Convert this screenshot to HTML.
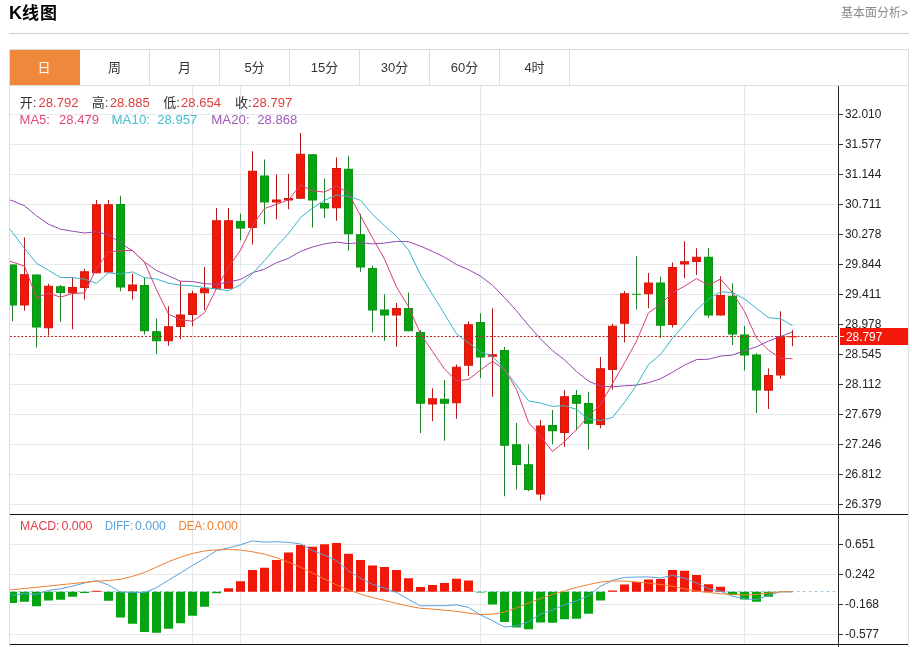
<!DOCTYPE html>
<html lang="zh-CN"><head><meta charset="utf-8"><title>K线图</title>
<style>
html,body{margin:0;padding:0;background:#fff;}
body{width:912px;height:647px;overflow:hidden;position:relative;font-family:"Liberation Sans","Noto Sans CJK SC",sans-serif;}
.title{position:absolute;left:9px;top:1px;font-size:18px;line-height:24px;font-weight:bold;color:#000;}
.more{position:absolute;right:4px;top:5px;font-size:12px;line-height:16px;color:#8a8a8a;white-space:nowrap;}
.hr{position:absolute;left:9px;top:33px;width:900px;height:1px;background:#cfcfcf;}
.box{position:absolute;left:9px;top:49px;width:898px;height:598px;border:1px solid #ddd;border-bottom:none;box-sizing:content-box;}
.tabs{position:absolute;left:10px;top:50px;width:898px;height:35px;border-bottom:1px solid #ddd;}
.tab{position:absolute;top:0;width:69px;height:35px;border-right:1px solid #ddd;text-align:center;font-size:13px;line-height:36px;color:#333;}
.tab.on{background:#f0883c;color:#fff;width:70px;border-right:none;text-indent:-2px;}
.title span{font-size:17px;letter-spacing:1px;}
svg{position:absolute;left:0;top:0;}
svg text{font-family:"Liberation Sans","Noto Sans CJK SC",sans-serif;}
</style></head><body>
<div class="title">K<span>线图</span></div>
<div class="more">基本面分析&gt;</div>
<div class="hr"></div>
<div class="box"></div>
<div class="tabs">
<div class="tab on" style="left:0px">日</div>
<div class="tab" style="left:70px">周</div>
<div class="tab" style="left:140px">月</div>
<div class="tab" style="left:210px">5分</div>
<div class="tab" style="left:280px">15分</div>
<div class="tab" style="left:350px">30分</div>
<div class="tab" style="left:420px">60分</div>
<div class="tab" style="left:490px">4时</div>
</div>
<svg width="912" height="647" viewBox="0 0 912 647">
<g shape-rendering="crispEdges"><rect x="10" y="114" width="827" height="1" fill="#e8e9eb"/><rect x="10" y="144" width="827" height="1" fill="#e8e9eb"/><rect x="10" y="174" width="827" height="1" fill="#e8e9eb"/><rect x="10" y="204" width="827" height="1" fill="#e8e9eb"/><rect x="10" y="234" width="827" height="1" fill="#e8e9eb"/><rect x="10" y="264" width="827" height="1" fill="#e8e9eb"/><rect x="10" y="294" width="827" height="1" fill="#e8e9eb"/><rect x="10" y="324" width="827" height="1" fill="#e8e9eb"/><rect x="10" y="354" width="827" height="1" fill="#e8e9eb"/><rect x="10" y="384" width="827" height="1" fill="#e8e9eb"/><rect x="10" y="414" width="827" height="1" fill="#e8e9eb"/><rect x="10" y="444" width="827" height="1" fill="#e8e9eb"/><rect x="10" y="474" width="827" height="1" fill="#e8e9eb"/><rect x="10" y="504" width="827" height="1" fill="#e8e9eb"/><rect x="10" y="544" width="827" height="1" fill="#e8e9eb"/><rect x="10" y="574" width="827" height="1" fill="#e8e9eb"/><rect x="10" y="604" width="827" height="1" fill="#e8e9eb"/><rect x="10" y="634" width="827" height="1" fill="#e8e9eb"/><rect x="192" y="86" width="1" height="558" fill="#e3e6ec"/><rect x="240" y="86" width="1" height="558" fill="#e3e6ec"/><rect x="480" y="86" width="1" height="558" fill="#e3e6ec"/><rect x="744" y="86" width="1" height="558" fill="#e3e6ec"/></g>
<line x1="10" y1="591.5" x2="838" y2="591.5" stroke="#9cc6de" stroke-width="1" stroke-dasharray="2.6,3.3" stroke-dashoffset="-2.4"/>
<g fill="#b01a18"><rect x="24" y="237.50" width="1" height="73.25"/><rect x="48" y="283.75" width="1" height="51.75"/><rect x="72" y="277.50" width="1" height="51.75"/><rect x="84" y="268.75" width="1" height="30.75"/><rect x="96" y="200.00" width="1" height="73.25"/><rect x="108" y="200.00" width="1" height="72.50"/><rect x="132" y="273.75" width="1" height="25.75"/><rect x="168" y="306.25" width="1" height="39.50"/><rect x="180" y="281.25" width="1" height="58.00"/><rect x="192" y="290.75" width="1" height="35.50"/><rect x="204" y="267.00" width="1" height="43.00"/><rect x="216" y="208.00" width="1" height="80.75"/><rect x="228" y="208.00" width="1" height="80.75"/><rect x="252" y="151.25" width="1" height="93.25"/><rect x="276" y="174.50" width="1" height="44.75"/><rect x="288" y="173.75" width="1" height="35.50"/><rect x="300" y="133.00" width="1" height="65.75"/><rect x="336" y="157.50" width="1" height="63.25"/><rect x="396" y="303.00" width="1" height="43.75"/><rect x="432" y="388.25" width="1" height="33.00"/><rect x="456" y="364.50" width="1" height="54.25"/><rect x="468" y="321.25" width="1" height="54.50"/><rect x="492" y="308.25" width="1" height="88.50"/><rect x="540" y="420.00" width="1" height="80.50"/><rect x="564" y="390.00" width="1" height="56.75"/><rect x="600" y="357.00" width="1" height="71.25"/><rect x="612" y="323.75" width="1" height="65.75"/><rect x="624" y="291.00" width="1" height="51.50"/><rect x="648" y="273.00" width="1" height="35.25"/><rect x="672" y="262.50" width="1" height="65.00"/><rect x="684" y="241.25" width="1" height="37.00"/><rect x="696" y="248.25" width="1" height="26.75"/><rect x="720" y="276.25" width="1" height="39.25"/><rect x="768" y="368.25" width="1" height="40.75"/><rect x="780" y="311.25" width="1" height="67.50"/><rect x="792" y="330.00" width="1" height="16.25"/></g>
<g fill="#1e8028"><rect x="12" y="264.50" width="1" height="56.75"/><rect x="36" y="274.50" width="1" height="73.00"/><rect x="60" y="285.00" width="1" height="36.75"/><rect x="120" y="195.75" width="1" height="95.50"/><rect x="144" y="277.50" width="1" height="57.00"/><rect x="156" y="318.75" width="1" height="35.00"/><rect x="240" y="213.75" width="1" height="26.65"/><rect x="264" y="159.50" width="1" height="64.75"/><rect x="312" y="154.25" width="1" height="73.25"/><rect x="324" y="178.75" width="1" height="39.25"/><rect x="348" y="155.75" width="1" height="95.00"/><rect x="360" y="213.75" width="1" height="58.00"/><rect x="372" y="265.75" width="1" height="66.75"/><rect x="384" y="294.25" width="1" height="46.50"/><rect x="408" y="292.50" width="1" height="38.75"/><rect x="420" y="330.00" width="1" height="103.00"/><rect x="444" y="380.00" width="1" height="60.75"/><rect x="480" y="313.25" width="1" height="64.75"/><rect x="504" y="347.00" width="1" height="149.25"/><rect x="516" y="423.00" width="1" height="66.50"/><rect x="528" y="444.25" width="1" height="47.00"/><rect x="552" y="410.00" width="1" height="34.25"/><rect x="576" y="390.00" width="1" height="40.50"/><rect x="588" y="391.75" width="1" height="57.50"/><rect x="636" y="256.25" width="1" height="53.25"/><rect x="660" y="276.75" width="1" height="61.25"/><rect x="708" y="248.00" width="1" height="70.00"/><rect x="732" y="283.25" width="1" height="61.75"/><rect x="744" y="325.75" width="1" height="44.75"/><rect x="756" y="353.25" width="1" height="59.75"/></g>
<g fill="#f01808" stroke="#d01a10" stroke-width="1"><rect x="20.5" y="274.75" width="8" height="30.25"/><rect x="44.5" y="286.25" width="8" height="41.50"/><rect x="68.5" y="287.50" width="8" height="5.25"/><rect x="80.5" y="271.75" width="8" height="15.75"/><rect x="92.5" y="204.75" width="8" height="68.00"/><rect x="104.5" y="204.75" width="8" height="67.25"/><rect x="128.5" y="285.00" width="8" height="5.75"/><rect x="164.5" y="326.75" width="8" height="14.00"/><rect x="176.5" y="315.00" width="8" height="11.50"/><rect x="188.5" y="293.75" width="8" height="20.75"/><rect x="200.5" y="288.75" width="8" height="4.00"/><rect x="212.5" y="220.75" width="8" height="67.50"/><rect x="224.5" y="220.75" width="8" height="67.50"/><rect x="248.5" y="171.25" width="8" height="56.15"/><rect x="272.5" y="200.00" width="8" height="2.00"/><rect x="284.5" y="198.50" width="8" height="1.50"/><rect x="296.5" y="154.25" width="8" height="44.00"/><rect x="332.5" y="168.50" width="8" height="39.25"/><rect x="392.5" y="308.50" width="8" height="6.50"/><rect x="428.5" y="398.75" width="8" height="5.25"/><rect x="452.5" y="367.25" width="8" height="35.50"/><rect x="464.5" y="324.75" width="8" height="40.50"/><rect x="488.5" y="354.75" width="8" height="1.50"/><rect x="536.5" y="426.00" width="8" height="68.00"/><rect x="560.5" y="396.75" width="8" height="35.75"/><rect x="596.5" y="368.75" width="8" height="55.75"/><rect x="608.5" y="326.25" width="8" height="43.25"/><rect x="620.5" y="293.75" width="8" height="29.50"/><rect x="644.5" y="283.00" width="8" height="10.75"/><rect x="668.5" y="267.50" width="8" height="57.00"/><rect x="680.5" y="261.75" width="8" height="2.25"/><rect x="692.5" y="257.25" width="8" height="4.25"/><rect x="716.5" y="295.50" width="8" height="19.50"/><rect x="764.5" y="375.50" width="8" height="14.70"/><rect x="776.5" y="336.75" width="8" height="38.25"/><rect x="788" y="336.25" width="9" height="1.00" stroke="none"/></g>
<g fill="#06a410" stroke="#0c9216" stroke-width="1"><rect x="10.5" y="265.00" width="6" height="40.00"/><rect x="32.5" y="275.00" width="8" height="52.00"/><rect x="56.5" y="286.75" width="8" height="5.75"/><rect x="116.5" y="204.50" width="8" height="82.50"/><rect x="140.5" y="285.50" width="8" height="45.25"/><rect x="152.5" y="331.75" width="8" height="9.00"/><rect x="236.5" y="221.40" width="8" height="6.70"/><rect x="260.5" y="176.00" width="8" height="26.00"/><rect x="308.5" y="154.75" width="8" height="45.25"/><rect x="320.5" y="203.50" width="8" height="4.50"/><rect x="344.5" y="169.25" width="8" height="64.50"/><rect x="356.5" y="234.75" width="8" height="32.25"/><rect x="368.5" y="268.50" width="8" height="41.50"/><rect x="380.5" y="310.00" width="8" height="5.00"/><rect x="404.5" y="308.50" width="8" height="22.25"/><rect x="416.5" y="332.50" width="8" height="70.75"/><rect x="440.5" y="399.25" width="8" height="4.00"/><rect x="476.5" y="322.50" width="8" height="34.50"/><rect x="500.5" y="350.50" width="8" height="94.75"/><rect x="512.5" y="444.75" width="8" height="19.75"/><rect x="524.5" y="464.75" width="8" height="24.75"/><rect x="548.5" y="425.50" width="8" height="5.25"/><rect x="572.5" y="395.50" width="8" height="7.75"/><rect x="584.5" y="403.50" width="8" height="19.75"/><rect x="632" y="293.75" width="9" height="1.00" stroke="none"/><rect x="656.5" y="283.00" width="8" height="42.25"/><rect x="704.5" y="257.25" width="8" height="57.75"/><rect x="728.5" y="296.25" width="8" height="37.75"/><rect x="740.5" y="335.00" width="8" height="20.00"/><rect x="752.5" y="355.00" width="8" height="35.00"/></g>
<g fill="#f01808"><rect x="92" y="590.75" width="9" height="1.00"/><rect x="224" y="588.25" width="9" height="3.50"/><rect x="236" y="581.25" width="9" height="10.50"/><rect x="248" y="570.00" width="9" height="21.75"/><rect x="260" y="567.75" width="9" height="24.00"/><rect x="272" y="560.00" width="9" height="31.75"/><rect x="284" y="552.50" width="9" height="39.25"/><rect x="296" y="545.00" width="9" height="46.75"/><rect x="308" y="546.75" width="9" height="45.00"/><rect x="320" y="544.25" width="9" height="47.50"/><rect x="332" y="543.00" width="9" height="48.75"/><rect x="344" y="553.75" width="9" height="38.00"/><rect x="356" y="560.00" width="9" height="31.75"/><rect x="368" y="565.50" width="9" height="26.25"/><rect x="380" y="567.00" width="9" height="24.75"/><rect x="392" y="570.00" width="9" height="21.75"/><rect x="404" y="578.25" width="9" height="13.50"/><rect x="416" y="587.00" width="9" height="4.75"/><rect x="428" y="585.00" width="9" height="6.75"/><rect x="440" y="583.00" width="9" height="8.75"/><rect x="452" y="578.75" width="9" height="13.00"/><rect x="464" y="580.50" width="9" height="11.25"/><rect x="608" y="590.50" width="9" height="1.25"/><rect x="620" y="584.50" width="9" height="7.25"/><rect x="632" y="582.00" width="9" height="9.75"/><rect x="644" y="579.50" width="9" height="12.25"/><rect x="656" y="579.00" width="9" height="12.75"/><rect x="668" y="570.00" width="9" height="21.75"/><rect x="680" y="570.75" width="9" height="21.00"/><rect x="692" y="575.00" width="9" height="16.75"/><rect x="704" y="584.25" width="9" height="7.50"/><rect x="716" y="586.75" width="9" height="5.00"/></g>
<g fill="#06a410"><rect x="10" y="591.75" width="7" height="11.25"/><rect x="20" y="591.75" width="9" height="10.00"/><rect x="32" y="591.75" width="9" height="14.50"/><rect x="44" y="591.75" width="9" height="8.75"/><rect x="56" y="591.75" width="9" height="8.00"/><rect x="68" y="591.75" width="9" height="5.00"/><rect x="80" y="591.75" width="9" height="1.25"/><rect x="104" y="591.75" width="9" height="9.00"/><rect x="116" y="591.75" width="9" height="25.75"/><rect x="128" y="591.75" width="9" height="32.00"/><rect x="140" y="591.75" width="9" height="40.25"/><rect x="152" y="591.75" width="9" height="41.00"/><rect x="164" y="591.75" width="9" height="37.00"/><rect x="176" y="591.75" width="9" height="31.50"/><rect x="188" y="591.75" width="9" height="24.00"/><rect x="200" y="591.75" width="9" height="15.00"/><rect x="212" y="591.75" width="9" height="1.50"/><rect x="476" y="591.75" width="9" height="0.75"/><rect x="488" y="591.75" width="9" height="12.75"/><rect x="500" y="591.75" width="9" height="30.25"/><rect x="512" y="591.75" width="9" height="35.75"/><rect x="524" y="591.75" width="9" height="37.50"/><rect x="536" y="591.75" width="9" height="30.75"/><rect x="548" y="591.75" width="9" height="31.00"/><rect x="560" y="591.75" width="9" height="27.50"/><rect x="572" y="591.75" width="9" height="27.00"/><rect x="584" y="591.75" width="9" height="22.00"/><rect x="596" y="591.75" width="9" height="8.75"/><rect x="728" y="591.75" width="9" height="3.25"/><rect x="740" y="591.75" width="9" height="7.75"/><rect x="752" y="591.75" width="9" height="10.00"/><rect x="764" y="591.75" width="9" height="5.00"/></g>
<line x1="10" y1="336.5" x2="838" y2="336.5" stroke="#b8241c" stroke-width="1" stroke-dasharray="2,1.75"/>
<polyline points="10.0,200.0 12.5,200.8 24.5,205.8 36.5,215.8 48.5,224.2 60.5,229.2 72.5,231.2 84.5,233.0 96.5,231.7 108.5,234.7 120.5,243.3 132.5,250.8 144.5,262.0 156.5,270.5 168.5,275.8 180.5,281.2 192.5,281.5 204.5,283.7 216.5,284.2 228.5,282.2 240.5,279.4 252.5,272.7 264.5,269.1 276.5,262.7 288.5,258.3 300.5,251.4 312.5,247.0 324.5,243.9 336.5,242.1 348.5,243.6 360.5,242.6 372.5,243.9 384.5,243.1 396.5,241.4 408.5,241.7 420.5,246.1 432.5,251.4 444.5,257.2 456.5,264.5 468.5,269.7 480.5,276.1 492.5,285.3 504.5,297.5 516.5,310.8 528.5,325.4 540.5,338.9 552.5,350.5 564.5,359.9 576.5,371.6 588.5,381.1 600.5,386.2 612.5,386.9 624.5,385.8 636.5,385.1 648.5,382.7 660.5,378.8 672.5,372.2 684.5,365.1 696.5,359.6 708.5,359.2 720.5,356.1 732.5,355.1 744.5,350.6 756.5,346.8 768.5,341.1 780.5,336.6 792.5,331.9" fill="none" stroke="#9448ac" stroke-width="1.0" stroke-linejoin="round"/>
<polyline points="10.0,229.2 12.5,232.5 24.5,248.3 36.5,263.3 48.5,270.3 60.5,277.5 72.5,277.5 84.5,279.2 96.5,283.3 108.5,272.8 120.5,274.0 132.5,271.9 144.5,277.6 156.5,279.0 168.5,283.1 180.5,285.2 192.5,285.8 204.5,287.5 216.5,289.1 228.5,290.7 240.5,284.8 252.5,273.5 264.5,260.6 276.5,246.4 288.5,233.6 300.5,217.5 312.5,208.2 324.5,200.3 336.5,195.0 348.5,196.4 360.5,200.3 372.5,214.3 384.5,225.6 396.5,236.4 408.5,249.8 420.5,274.8 432.5,294.6 444.5,314.1 456.5,333.9 468.5,342.9 480.5,351.9 492.5,356.3 504.5,369.4 516.5,385.1 528.5,400.9 540.5,403.1 552.5,406.4 564.5,405.6 576.5,409.4 588.5,419.3 600.5,420.4 612.5,417.5 624.5,402.3 636.5,385.2 648.5,364.5 660.5,354.5 672.5,338.1 684.5,324.6 696.5,309.9 708.5,299.1 720.5,291.8 732.5,292.6 744.5,298.9 756.5,308.4 768.5,317.7 780.5,318.7 792.5,325.6" fill="none" stroke="#35b4c8" stroke-width="1.0" stroke-linejoin="round"/>
<polyline points="10.0,261.3 12.5,262.0 24.5,266.2 36.5,297.8 48.5,293.0 60.5,297.2 72.5,293.5 84.5,292.9 96.5,268.2 108.5,251.9 120.5,250.8 132.5,250.3 144.5,262.4 156.5,289.8 168.5,314.1 180.5,319.6 192.5,321.3 204.5,312.7 216.5,288.5 228.5,267.3 240.5,250.1 252.5,225.6 264.5,208.5 276.5,204.3 288.5,199.9 300.5,184.9 312.5,190.8 324.5,192.1 336.5,185.8 348.5,193.0 360.5,215.8 372.5,237.8 384.5,259.1 396.5,287.1 408.5,306.6 420.5,333.8 432.5,351.4 444.5,369.0 456.5,380.8 468.5,379.4 480.5,370.1 492.5,361.3 504.5,369.7 516.5,389.4 528.5,422.5 540.5,436.1 552.5,451.5 564.5,441.6 576.5,429.4 588.5,416.1 600.5,404.6 612.5,383.6 624.5,362.9 636.5,341.1 648.5,312.9 660.5,304.4 672.5,292.6 684.5,286.2 696.5,278.6 708.5,285.2 720.5,279.1 732.5,292.6 744.5,311.4 756.5,338.2 768.5,350.1 780.5,358.4 792.5,358.7" fill="none" stroke="#d83e74" stroke-width="1.0" stroke-linejoin="round"/>
<polyline points="10.0,593.0 12.5,595.4 24.5,593.5 36.5,594.5 48.5,590.4 60.5,588.8 72.5,586.1 84.5,583.0 96.5,580.7 108.5,585.0 120.5,592.1 132.5,592.3 144.5,592.6 156.5,587.6 168.5,580.2 180.5,572.9 192.5,565.5 204.5,558.4 216.5,550.7 228.5,547.8 240.5,544.8 252.5,540.9 264.5,542.1 276.5,541.8 288.5,542.4 300.5,543.9 312.5,550.6 324.5,555.2 336.5,560.6 348.5,570.9 360.5,578.2 372.5,584.4 384.5,588.0 396.5,592.5 408.5,599.4 420.5,605.9 432.5,605.7 444.5,605.8 456.5,604.8 468.5,607.5 480.5,614.9 492.5,620.6 504.5,627.1 516.5,625.8 528.5,621.9 540.5,614.0 552.5,610.0 564.5,604.6 576.5,600.9 588.5,595.6 600.5,586.3 612.5,580.4 624.5,577.4 636.5,577.1 648.5,576.9 660.5,578.1 672.5,575.4 684.5,578.2 696.5,582.9 708.5,588.8 720.5,591.2 732.5,596.1 744.5,598.9 756.5,599.5 768.5,595.5 780.5,591.8 792.5,591.8" fill="none" stroke="#5aa0dc" stroke-width="1.0" stroke-linejoin="round"/>
<polyline points="10.0,590.0 12.5,589.7 24.5,588.5 36.5,587.3 48.5,586.0 60.5,584.8 72.5,583.6 84.5,582.3 96.5,581.2 108.5,580.5 120.5,579.3 132.5,576.3 144.5,572.5 156.5,567.1 168.5,561.7 180.5,557.1 192.5,553.5 204.5,550.9 216.5,549.9 228.5,549.5 240.5,550.0 252.5,551.8 264.5,554.1 276.5,557.7 288.5,562.1 300.5,567.2 312.5,573.1 324.5,579.0 336.5,585.0 348.5,589.9 360.5,594.1 372.5,597.5 384.5,600.4 396.5,603.4 408.5,606.1 420.5,608.3 432.5,609.1 444.5,610.2 456.5,611.3 468.5,613.1 480.5,614.5 492.5,614.2 504.5,612.0 516.5,607.9 528.5,603.1 540.5,598.6 552.5,594.5 564.5,590.9 576.5,587.4 588.5,584.6 600.5,582.0 612.5,581.0 624.5,581.0 636.5,582.0 648.5,583.0 660.5,584.5 672.5,586.2 684.5,588.8 696.5,591.2 708.5,592.5 720.5,593.8 732.5,594.5 744.5,595.0 756.5,594.5 768.5,593.0 780.5,591.8 792.5,591.8" fill="none" stroke="#f08030" stroke-width="1.0" stroke-linejoin="round"/>
<g shape-rendering="crispEdges">
<rect x="10" y="514" width="898" height="1" fill="#111"/>
<rect x="10" y="644" width="898" height="1" fill="#111"/>
<rect x="838" y="86" width="1" height="561" fill="#222"/>
</g>
<g fill="#333" shape-rendering="crispEdges"><rect x="839" y="114" width="4" height="1"/><rect x="839" y="144" width="4" height="1"/><rect x="839" y="174" width="4" height="1"/><rect x="839" y="204" width="4" height="1"/><rect x="839" y="234" width="4" height="1"/><rect x="839" y="264" width="4" height="1"/><rect x="839" y="294" width="4" height="1"/><rect x="839" y="324" width="4" height="1"/><rect x="839" y="354" width="4" height="1"/><rect x="839" y="384" width="4" height="1"/><rect x="839" y="414" width="4" height="1"/><rect x="839" y="444" width="4" height="1"/><rect x="839" y="474" width="4" height="1"/><rect x="839" y="504" width="4" height="1"/><rect x="839" y="544" width="4" height="1"/><rect x="839" y="574" width="4" height="1"/><rect x="839" y="604" width="4" height="1"/><rect x="839" y="634" width="4" height="1"/></g>
<g fill="#222" font-size="12"><text x="845" y="118.2" textLength="36.3" lengthAdjust="spacingAndGlyphs">32.010</text><text x="845" y="148.2" textLength="36.3" lengthAdjust="spacingAndGlyphs">31.577</text><text x="845" y="178.2" textLength="36.3" lengthAdjust="spacingAndGlyphs">31.144</text><text x="845" y="208.2" textLength="36.3" lengthAdjust="spacingAndGlyphs">30.711</text><text x="845" y="238.2" textLength="36.3" lengthAdjust="spacingAndGlyphs">30.278</text><text x="845" y="268.2" textLength="36.3" lengthAdjust="spacingAndGlyphs">29.844</text><text x="845" y="298.2" textLength="36.3" lengthAdjust="spacingAndGlyphs">29.411</text><text x="845" y="328.2" textLength="36.3" lengthAdjust="spacingAndGlyphs">28.978</text><text x="845" y="358.2" textLength="36.3" lengthAdjust="spacingAndGlyphs">28.545</text><text x="845" y="388.2" textLength="36.3" lengthAdjust="spacingAndGlyphs">28.112</text><text x="845" y="418.2" textLength="36.3" lengthAdjust="spacingAndGlyphs">27.679</text><text x="845" y="448.2" textLength="36.3" lengthAdjust="spacingAndGlyphs">27.246</text><text x="845" y="478.2" textLength="36.3" lengthAdjust="spacingAndGlyphs">26.812</text><text x="845" y="508.2" textLength="36.3" lengthAdjust="spacingAndGlyphs">26.379</text><text x="845" y="548.2">0.651</text><text x="845" y="578.2">0.242</text><text x="845" y="608.2">-0.168</text><text x="845" y="638.2">-0.577</text></g>
<rect x="840" y="328" width="68" height="17" fill="#f3180a" shape-rendering="crispEdges"/>
<rect x="840" y="336" width="4" height="1" fill="#fff" shape-rendering="crispEdges"/>
<text x="846" y="340.8" font-size="12" fill="#fff" textLength="36.3" lengthAdjust="spacingAndGlyphs">28.797</text>
<g font-size="13">
<text x="19.7" y="106.8" fill="#333">开:</text>
<text x="38.5" y="106.8" fill="#e03c3c" textLength="40" lengthAdjust="spacingAndGlyphs">28.792</text>
<text x="91.7" y="106.8" fill="#333">高:</text>
<text x="109.8" y="106.8" fill="#e03c3c" textLength="40" lengthAdjust="spacingAndGlyphs">28.885</text>
<text x="163.3" y="106.8" fill="#333">低:</text>
<text x="181.1" y="106.8" fill="#e03c3c" textLength="40" lengthAdjust="spacingAndGlyphs">28.654</text>
<text x="235" y="106.8" fill="#333">收:</text>
<text x="252.3" y="106.8" fill="#e03c3c" textLength="40" lengthAdjust="spacingAndGlyphs">28.797</text>
<text x="19.5" y="124.2" fill="#e04a7c" textLength="30.5" lengthAdjust="spacingAndGlyphs">MA5:</text>
<text x="59" y="124.2" fill="#e04a7c" textLength="40" lengthAdjust="spacingAndGlyphs">28.479</text>
<text x="111.5" y="124.2" fill="#45bfd2" textLength="38.5" lengthAdjust="spacingAndGlyphs">MA10:</text>
<text x="157.3" y="124.2" fill="#45bfd2" textLength="40" lengthAdjust="spacingAndGlyphs">28.957</text>
<text x="211.2" y="124.2" fill="#a25ab8" textLength="38.5" lengthAdjust="spacingAndGlyphs">MA20:</text>
<text x="257.3" y="124.2" fill="#a25ab8" textLength="40" lengthAdjust="spacingAndGlyphs">28.868</text>
</g>
<g font-size="12">
<text x="20" y="529.6" fill="#e0404a" textLength="39.5" lengthAdjust="spacingAndGlyphs">MACD:</text>
<text x="61.5" y="529.6" fill="#e0404a" textLength="31" lengthAdjust="spacingAndGlyphs">0.000</text>
<text x="105" y="529.6" fill="#5aa0dc" textLength="28" lengthAdjust="spacingAndGlyphs">DIFF:</text>
<text x="135" y="529.6" fill="#5aa0dc" textLength="31" lengthAdjust="spacingAndGlyphs">0.000</text>
<text x="178.5" y="529.6" fill="#f08030" textLength="27" lengthAdjust="spacingAndGlyphs">DEA:</text>
<text x="207" y="529.6" fill="#f08030" textLength="31" lengthAdjust="spacingAndGlyphs">0.000</text>
</g>
</svg>
</body></html>
